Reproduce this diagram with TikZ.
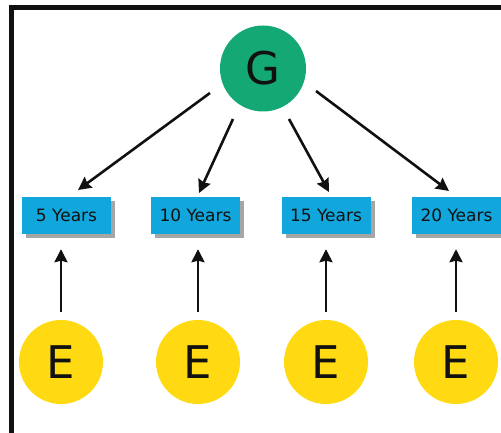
\documentclass[tikz,border=0pt]{standalone}
\usepackage{fontspec}
\setmainfont{DejaVu Sans}
\usetikzlibrary{arrows.meta,shadows}
\definecolor{ggreen}{RGB}{19,168,116}
\definecolor{bblue}{RGB}{17,167,220}
\definecolor{eyellow}{RGB}{255,218,18}
\definecolor{ink}{RGB}{17,17,17}
\begin{document}
\begin{tikzpicture}[x=1pt,y=-1pt,
  goal/.style={circle,fill=ggreen,minimum size=86pt,inner sep=0pt,text=ink,font=\fontsize{45}{45}\selectfont},
  ent/.style={circle,fill=eyellow,minimum size=84pt,inner sep=0pt,text=ink,font=\fontsize{45}{45}\selectfont},
  yearbox/.style={rectangle,fill=bblue,minimum width=89pt,minimum height=37pt,inner sep=0pt,text=ink,
    font=\fontsize{17}{17}\selectfont,
    drop shadow={shadow xshift=4pt,shadow yshift=-4pt,fill=black,opacity=0.35}},
  link/.style={draw=ink,line width=2.6pt,-{Stealth[length=13pt,width=13pt,inset=1.5pt]}}]
\useasboundingbox (0,0) rectangle (501,433);
\draw[ink,line width=4.5pt] (11.5,440) -- (11.5,7.5) -- (510,7.5);
\node[goal] (G) at (263,68.5) {G};
\node[yearbox] (B1) at (66.5,215.5) {5 Years};
\node[yearbox] (B2) at (195.5,215.5) {10 Years};
\node[yearbox] (B3) at (326,215.5) {15 Years};
\node[yearbox] (B4) at (456.5,215.5) {20 Years};
\node[ent] (E1) at (61,362) {E};
\node[ent] (E2) at (198,362) {E};
\node[ent] (E3) at (326,362) {E};
\node[ent] (E4) at (456,362) {E};
\coordinate (s1) at (210,93);  \coordinate (t1) at (78,190);
\coordinate (s2) at (233,119); \coordinate (t2) at (199,193);
\coordinate (s3) at (289,119); \coordinate (t3) at (329,192);
\coordinate (s4) at (316,91);  \coordinate (t4) at (449,191);
\draw[link] (s1) -- (t1);
\draw[link] (s2) -- (t2);
\draw[link] (s3) -- (t3);
\draw[link] (s4) -- (t4);
\foreach \i in {1,2,3,4}{
  \draw[link,shorten <=8pt,shorten >=15pt] (E\i.north) -- (E\i.north |- B\i.south);
}
\end{tikzpicture}
\end{document}
